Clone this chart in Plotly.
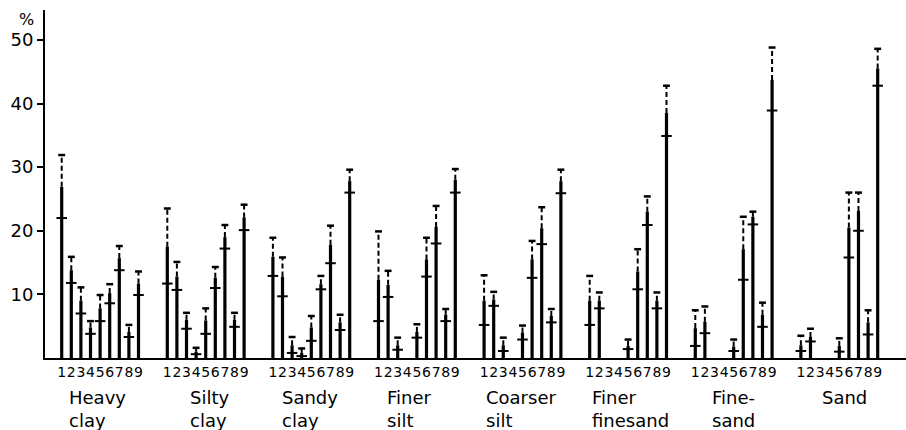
import plotly.graph_objects as go

groups = ["Heavy<br>clay", "Silty<br>clay", "Sandy<br>clay", "Finer<br>silt",
          "Coarser<br>silt", "Finer<br>finesand", "Fine-<br>sand", "Sand"]
bar_labels = ["1", "2", "3", "4", "5", "6", "7", "8", "9"]

# cross mark (mean) per group, bars 1..9 (None = no bar)
mean_vals = [
    [22.0, 11.8, 7.0, 3.8, 5.8, 8.6, 13.8, 3.3, 9.9],
    [11.7, 10.7, 4.6, 0.6, 3.8, 11.0, 17.2, 4.9, 20.1],
    [12.9, 9.7, 0.8, 0.3, 2.7, 10.8, 14.9, 4.4, 26.0],
    [5.8, 9.6, 1.3, None, 3.2, 12.8, 18.0, 5.8, 26.0],
    [5.2, 8.2, 1.1, None, 2.9, 12.6, 17.9, 5.6, 25.9],
    [5.2, 7.8, None, None, 1.4, 10.8, 20.9, 7.8, 34.9],
    [1.9, 3.9, None, None, 1.1, 12.3, 21.0, 4.9, 38.9],
    [1.1, 2.6, None, None, 1.0, 15.8, 20.0, 3.7, 42.8],
]
# top of the solid line
solid_vals = [
    [26.9, 13.8, 9.0, 4.8, 7.8, 10.2, 15.7, 4.1, 11.7],
    [17.5, 12.8, 6.0, 1.0, 5.9, 12.6, 19.0, 6.0, 22.1],
    [15.9, 12.8, 2.0, 0.8, 4.8, 11.6, 17.8, 5.6, 27.8],
    [12.3, 11.5, 2.0, None, 4.1, 15.5, 20.6, 6.8, 28.0],
    [9.0, 9.2, 2.0, None, 4.0, 15.5, 20.4, 6.6, 27.8],
    [9.0, 9.0, None, None, 1.9, 13.6, 23.0, 9.0, 38.5],
    [4.7, 5.7, None, None, 1.8, 17.1, 22.2, 6.8, 43.7],
    [2.0, 3.3, None, None, 1.9, 20.5, 23.1, 5.6, 45.5],
]
# top of the dashed line (cap)
cap_vals = [
    [31.9, 15.9, 11.1, 5.8, 9.9, 11.6, 17.6, 5.2, 13.6],
    [23.5, 15.1, 7.1, 1.6, 7.8, 14.3, 20.9, 7.1, 24.1],
    [18.9, 15.8, 3.3, 1.5, 6.6, 12.9, 20.8, 6.8, 29.6],
    [19.9, 13.7, 3.2, None, 5.3, 18.9, 23.9, 7.7, 29.7],
    [13.0, 10.4, 3.2, None, 5.1, 18.4, 23.7, 7.7, 29.6],
    [12.9, 10.3, None, None, 2.9, 17.1, 25.4, 10.3, 42.8],
    [7.5, 8.1, None, None, 2.9, 22.2, 23.0, 8.7, 48.8],
    [3.5, 4.6, None, None, 3.1, 26.0, 26.0, 7.5, 48.6],
]
y_ticks = [10, 20, 30, 40, 50]

# ---------- layout helpers ----------
GROUP_STEP = 11
label_offsets = [0.55, 2.15, 0.75, 0.7, 0.0, 0.0, 1.5, 2.0]

sx, sy = [], []
dx, dy = [], []
cx, cy = [], []
mx, my = [], []
tickvals, ticktext = [], []
for g in range(len(groups)):
    for j in range(9):
        x = g * GROUP_STEP + j
        tickvals.append(x)
        ticktext.append(bar_labels[j])
        m, s, c = mean_vals[g][j], solid_vals[g][j], cap_vals[g][j]
        if s is None:
            continue
        sx += [x, x, None]; sy += [0, s, None]
        dx += [x, x, None]; dy += [s, c, None]
        cx += [x - 0.36, x + 0.36, None]; cy += [c, c, None]
        mx += [x - 0.55, x + 0.55, None]; my += [m, m, None]

fig = go.Figure()
fig.add_trace(go.Scatter(x=dx, y=dy, mode="lines",
                         line=dict(color="black", width=2, dash="5px,3px"),
                         hoverinfo="skip", showlegend=False))
fig.add_trace(go.Scatter(x=sx, y=sy, mode="lines",
                         line=dict(color="black", width=3.2),
                         hoverinfo="skip", showlegend=False))
fig.add_trace(go.Scatter(x=cx, y=cy, mode="lines",
                         line=dict(color="black", width=2.5),
                         hoverinfo="skip", showlegend=False))
fig.add_trace(go.Scatter(x=mx, y=my, mode="lines",
                         line=dict(color="black", width=2),
                         hoverinfo="skip", showlegend=False))

FONT = "DejaVu Sans"
annotations = []
for g, name in enumerate(groups):
    annotations.append(dict(
        x=g * GROUP_STEP + label_offsets[g], y=0, xref="x", yref="y",
        text=name, showarrow=False, xanchor="left", yanchor="top",
        align="left", yshift=-27, font=dict(family=FONT, size=18, color="black")))
annotations.append(dict(x=-0.021, y=0.974, xref="paper", yref="paper", text="%",
                        showarrow=False, xanchor="center", yanchor="middle",
                        font=dict(family=FONT, size=16, color="black")))

fig.update_layout(
    width=906, height=430,
    margin=dict(l=45, r=0, t=10, b=72),
    paper_bgcolor="white", plot_bgcolor="white",
    font=dict(family=FONT, color="black"),
    annotations=annotations,
    xaxis=dict(range=[-1.74, 87.95], showgrid=False, zeroline=False,
               showline=True, linecolor="black", linewidth=2,
               tickmode="array", tickvals=tickvals, ticktext=ticktext,
               ticks="", tickangle=0, tickfont=dict(family=FONT, size=14, color="black")),
    yaxis=dict(range=[0, 54.7], showgrid=False, zeroline=False,
               showline=True, linecolor="black", linewidth=2,
               tickmode="array", tickvals=y_ticks, ticks="outside",
               ticklen=6, tickwidth=2, tickcolor="black",
               tickfont=dict(family=FONT, size=18, color="black")),
)

fig.write_html(
    "out.html",
    config={"displayModeBar": False},
    post_script="document.body.style.margin='0px';document.body.style.overflow='hidden';",
)
